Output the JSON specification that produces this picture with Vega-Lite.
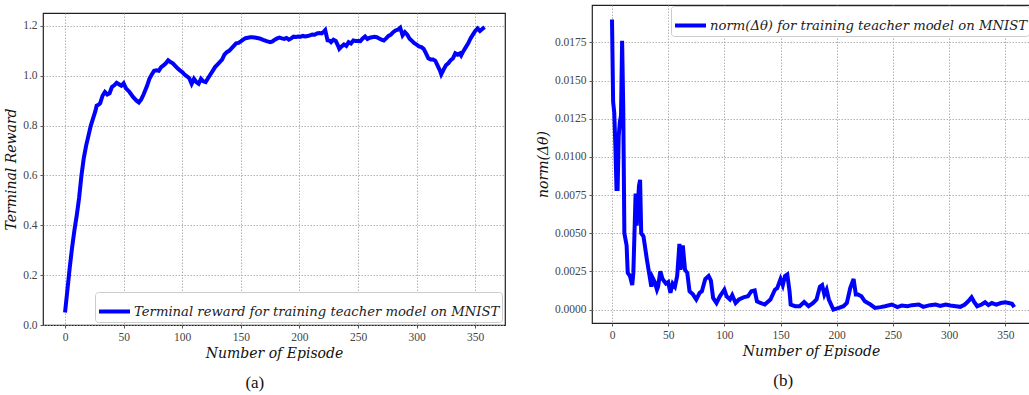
{
  "$schema": "https://vega.github.io/schema/vega-lite/v6.json",
  "background": "white",
  "padding": {"left": 4, "top": 4, "right": 0, "bottom": 0},
  "resolve": {"scale": {"color": "independent"}, "legend": {"color": "independent"}},
  "datasets": {
    "reward": [
      {"episode": 0, "reward": 0.05}, {"episode": 2, "reward": 0.14}, {"episode": 4, "reward": 0.23}, {"episode": 6, "reward": 0.31},
      {"episode": 8, "reward": 0.38}, {"episode": 10, "reward": 0.44}, {"episode": 12, "reward": 0.51}, {"episode": 14, "reward": 0.6},
      {"episode": 16, "reward": 0.67}, {"episode": 18, "reward": 0.72}, {"episode": 20, "reward": 0.76}, {"episode": 22, "reward": 0.8},
      {"episode": 24, "reward": 0.83}, {"episode": 26, "reward": 0.86}, {"episode": 27, "reward": 0.88}, {"episode": 29, "reward": 0.885},
      {"episode": 30, "reward": 0.89}, {"episode": 32, "reward": 0.92}, {"episode": 34, "reward": 0.935}, {"episode": 36, "reward": 0.925},
      {"episode": 38, "reward": 0.93}, {"episode": 40, "reward": 0.955}, {"episode": 42, "reward": 0.962}, {"episode": 44, "reward": 0.972},
      {"episode": 46, "reward": 0.966}, {"episode": 48, "reward": 0.96}, {"episode": 50, "reward": 0.97}, {"episode": 52, "reward": 0.95},
      {"episode": 55, "reward": 0.935}, {"episode": 58, "reward": 0.915}, {"episode": 61, "reward": 0.9}, {"episode": 63, "reward": 0.893},
      {"episode": 65, "reward": 0.905}, {"episode": 67, "reward": 0.925}, {"episode": 70, "reward": 0.96}, {"episode": 72, "reward": 0.988},
      {"episode": 74, "reward": 1.005}, {"episode": 76, "reward": 1.02}, {"episode": 78, "reward": 1.022}, {"episode": 80, "reward": 1.02},
      {"episode": 82, "reward": 1.035}, {"episode": 84, "reward": 1.042}, {"episode": 86, "reward": 1.05}, {"episode": 88, "reward": 1.062},
      {"episode": 90, "reward": 1.055}, {"episode": 92, "reward": 1.05}, {"episode": 94, "reward": 1.04}, {"episode": 96, "reward": 1.03},
      {"episode": 98, "reward": 1.022}, {"episode": 100, "reward": 1.015}, {"episode": 102, "reward": 1.005}, {"episode": 104, "reward": 0.998},
      {"episode": 106, "reward": 0.99}, {"episode": 108, "reward": 0.968}, {"episode": 110, "reward": 0.988}, {"episode": 112, "reward": 0.975},
      {"episode": 114, "reward": 0.968}, {"episode": 116, "reward": 0.988}, {"episode": 118, "reward": 0.978}, {"episode": 120, "reward": 0.975},
      {"episode": 122, "reward": 0.99}, {"episode": 124, "reward": 1.005}, {"episode": 126, "reward": 1.02}, {"episode": 128, "reward": 1.035},
      {"episode": 130, "reward": 1.045}, {"episode": 132, "reward": 1.055}, {"episode": 134, "reward": 1.065}, {"episode": 136, "reward": 1.085},
      {"episode": 138, "reward": 1.095}, {"episode": 140, "reward": 1.1}, {"episode": 142, "reward": 1.11}, {"episode": 144, "reward": 1.12},
      {"episode": 146, "reward": 1.13}, {"episode": 148, "reward": 1.132}, {"episode": 150, "reward": 1.138}, {"episode": 152, "reward": 1.145},
      {"episode": 154, "reward": 1.151}, {"episode": 156, "reward": 1.153}, {"episode": 158, "reward": 1.155}, {"episode": 160, "reward": 1.155},
      {"episode": 163, "reward": 1.153}, {"episode": 166, "reward": 1.15}, {"episode": 169, "reward": 1.144}, {"episode": 172, "reward": 1.139},
      {"episode": 175, "reward": 1.135}, {"episode": 177, "reward": 1.138}, {"episode": 179, "reward": 1.145}, {"episode": 181, "reward": 1.15},
      {"episode": 183, "reward": 1.153}, {"episode": 185, "reward": 1.15}, {"episode": 187, "reward": 1.148}, {"episode": 189, "reward": 1.152},
      {"episode": 191, "reward": 1.145}, {"episode": 193, "reward": 1.15}, {"episode": 195, "reward": 1.157}, {"episode": 197, "reward": 1.156},
      {"episode": 199, "reward": 1.158}, {"episode": 201, "reward": 1.157}, {"episode": 203, "reward": 1.16}, {"episode": 205, "reward": 1.158},
      {"episode": 207, "reward": 1.16}, {"episode": 209, "reward": 1.162}, {"episode": 211, "reward": 1.166}, {"episode": 213, "reward": 1.165},
      {"episode": 215, "reward": 1.17}, {"episode": 217, "reward": 1.172}, {"episode": 219, "reward": 1.17}, {"episode": 221, "reward": 1.178},
      {"episode": 222, "reward": 1.183}, {"episode": 224, "reward": 1.142}, {"episode": 226, "reward": 1.14}, {"episode": 227, "reward": 1.135},
      {"episode": 229, "reward": 1.145}, {"episode": 231, "reward": 1.14}, {"episode": 233, "reward": 1.12}, {"episode": 234, "reward": 1.108},
      {"episode": 236, "reward": 1.118}, {"episode": 238, "reward": 1.126}, {"episode": 240, "reward": 1.12}, {"episode": 242, "reward": 1.135},
      {"episode": 244, "reward": 1.13}, {"episode": 246, "reward": 1.142}, {"episode": 248, "reward": 1.14}, {"episode": 250, "reward": 1.14},
      {"episode": 252, "reward": 1.139}, {"episode": 254, "reward": 1.15}, {"episode": 256, "reward": 1.158}, {"episode": 258, "reward": 1.148},
      {"episode": 260, "reward": 1.153}, {"episode": 262, "reward": 1.155}, {"episode": 264, "reward": 1.157}, {"episode": 266, "reward": 1.155},
      {"episode": 268, "reward": 1.15}, {"episode": 270, "reward": 1.145}, {"episode": 272, "reward": 1.142}, {"episode": 274, "reward": 1.15},
      {"episode": 276, "reward": 1.16}, {"episode": 278, "reward": 1.165}, {"episode": 280, "reward": 1.175}, {"episode": 282, "reward": 1.182},
      {"episode": 284, "reward": 1.185}, {"episode": 286, "reward": 1.193}, {"episode": 288, "reward": 1.162}, {"episode": 290, "reward": 1.175},
      {"episode": 292, "reward": 1.165}, {"episode": 294, "reward": 1.149}, {"episode": 296, "reward": 1.14}, {"episode": 298, "reward": 1.131},
      {"episode": 300, "reward": 1.125}, {"episode": 302, "reward": 1.118}, {"episode": 304, "reward": 1.115}, {"episode": 306, "reward": 1.108},
      {"episode": 308, "reward": 1.09}, {"episode": 310, "reward": 1.07}, {"episode": 312, "reward": 1.065}, {"episode": 314, "reward": 1.065},
      {"episode": 316, "reward": 1.06}, {"episode": 318, "reward": 1.04}, {"episode": 320, "reward": 1.02}, {"episode": 321, "reward": 1.006},
      {"episode": 323, "reward": 1.025}, {"episode": 325, "reward": 1.042}, {"episode": 327, "reward": 1.05}, {"episode": 329, "reward": 1.062},
      {"episode": 331, "reward": 1.07}, {"episode": 333, "reward": 1.09}, {"episode": 335, "reward": 1.085}, {"episode": 337, "reward": 1.09},
      {"episode": 338, "reward": 1.082}, {"episode": 340, "reward": 1.1}, {"episode": 342, "reward": 1.115}, {"episode": 344, "reward": 1.13},
      {"episode": 346, "reward": 1.15}, {"episode": 348, "reward": 1.165}, {"episode": 350, "reward": 1.18}, {"episode": 352, "reward": 1.19},
      {"episode": 354, "reward": 1.18}, {"episode": 356, "reward": 1.188}, {"episode": 358, "reward": 1.195}
    ],
    "norm": [
      {"episode": 0, "norm": 0.019}, {"episode": 1, "norm": 0.0136}, {"episode": 2, "norm": 0.0129}, {"episode": 3, "norm": 0.0107},
      {"episode": 4, "norm": 0.0079}, {"episode": 5, "norm": 0.0079}, {"episode": 6, "norm": 0.0114}, {"episode": 7, "norm": 0.0123},
      {"episode": 8, "norm": 0.0127}, {"episode": 9, "norm": 0.0176}, {"episode": 10, "norm": 0.0133}, {"episode": 11, "norm": 0.005},
      {"episode": 13, "norm": 0.0042}, {"episode": 14, "norm": 0.0024}, {"episode": 16, "norm": 0.0022}, {"episode": 18, "norm": 0.0016},
      {"episode": 19, "norm": 0.0024}, {"episode": 21, "norm": 0.0076}, {"episode": 22, "norm": 0.0055}, {"episode": 24, "norm": 0.0081},
      {"episode": 25, "norm": 0.0085}, {"episode": 26, "norm": 0.005}, {"episode": 28, "norm": 0.0048}, {"episode": 31, "norm": 0.0033},
      {"episode": 33, "norm": 0.0024}, {"episode": 35, "norm": 0.0015}, {"episode": 36, "norm": 0.0021}, {"episode": 38, "norm": 0.0018},
      {"episode": 40, "norm": 0.0013}, {"episode": 41, "norm": 0.0015}, {"episode": 43, "norm": 0.0025}, {"episode": 45, "norm": 0.002},
      {"episode": 48, "norm": 0.0017}, {"episode": 50, "norm": 0.0018}, {"episode": 52, "norm": 0.0011}, {"episode": 54, "norm": 0.0017},
      {"episode": 56, "norm": 0.0015}, {"episode": 58, "norm": 0.0022}, {"episode": 60, "norm": 0.0043}, {"episode": 61, "norm": 0.0026},
      {"episode": 63, "norm": 0.0042}, {"episode": 65, "norm": 0.0026}, {"episode": 67, "norm": 0.0024}, {"episode": 69, "norm": 0.0012},
      {"episode": 72, "norm": 0.001}, {"episode": 75, "norm": 0.00066}, {"episode": 78, "norm": 0.0011}, {"episode": 80, "norm": 0.0012},
      {"episode": 83, "norm": 0.002}, {"episode": 86, "norm": 0.0022}, {"episode": 88, "norm": 0.0019}, {"episode": 90, "norm": 0.00076},
      {"episode": 93, "norm": 0.00043}, {"episode": 96, "norm": 0.00087}, {"episode": 100, "norm": 0.0013}, {"episode": 102, "norm": 0.00087},
      {"episode": 105, "norm": 0.00066}, {"episode": 107, "norm": 0.00094}, {"episode": 110, "norm": 0.00043}, {"episode": 113, "norm": 0.00066},
      {"episode": 117, "norm": 0.0008}, {"episode": 121, "norm": 0.00087}, {"episode": 124, "norm": 0.0012}, {"episode": 127, "norm": 0.00125},
      {"episode": 129, "norm": 0.00054}, {"episode": 132, "norm": 0.00043}, {"episode": 136, "norm": 0.00033}, {"episode": 141, "norm": 0.00066},
      {"episode": 145, "norm": 0.0013}, {"episode": 147, "norm": 0.0014}, {"episode": 150, "norm": 0.002}, {"episode": 152, "norm": 0.0016},
      {"episode": 154, "norm": 0.0022}, {"episode": 156, "norm": 0.0023}, {"episode": 158, "norm": 0.0012}, {"episode": 159, "norm": 0.00033},
      {"episode": 163, "norm": 0.00022}, {"episode": 167, "norm": 0.00022}, {"episode": 171, "norm": 0.0005}, {"episode": 175, "norm": 0.00022},
      {"episode": 179, "norm": 0.00043}, {"episode": 182, "norm": 0.00066}, {"episode": 185, "norm": 0.0015}, {"episode": 187, "norm": 0.0016},
      {"episode": 189, "norm": 0.00098}, {"episode": 191, "norm": 0.0013}, {"episode": 193, "norm": 0.00066}, {"episode": 197, "norm": 0.0},
      {"episode": 202, "norm": 0.00011}, {"episode": 206, "norm": 0.00022}, {"episode": 209, "norm": 0.00043}, {"episode": 212, "norm": 0.0014},
      {"episode": 215, "norm": 0.002}, {"episode": 217, "norm": 0.00098}, {"episode": 219, "norm": 0.00098}, {"episode": 222, "norm": 0.00087},
      {"episode": 225, "norm": 0.00054}, {"episode": 230, "norm": 0.00033}, {"episode": 234, "norm": 0.00011}, {"episode": 239, "norm": 0.00016},
      {"episode": 243, "norm": 0.00022}, {"episode": 249, "norm": 0.00033}, {"episode": 254, "norm": 0.00016}, {"episode": 258, "norm": 0.00027},
      {"episode": 263, "norm": 0.00022}, {"episode": 267, "norm": 0.00029}, {"episode": 273, "norm": 0.00033}, {"episode": 277, "norm": 0.00018},
      {"episode": 283, "norm": 0.00029}, {"episode": 288, "norm": 0.00033}, {"episode": 292, "norm": 0.00024}, {"episode": 297, "norm": 0.00033},
      {"episode": 301, "norm": 0.00027}, {"episode": 306, "norm": 0.00022}, {"episode": 310, "norm": 0.00018}, {"episode": 314, "norm": 0.00033},
      {"episode": 317, "norm": 0.00054}, {"episode": 320, "norm": 0.0008}, {"episode": 322, "norm": 0.00054}, {"episode": 325, "norm": 0.00022},
      {"episode": 329, "norm": 0.00033}, {"episode": 332, "norm": 0.00048}, {"episode": 335, "norm": 0.00029}, {"episode": 338, "norm": 0.00043},
      {"episode": 342, "norm": 0.00033}, {"episode": 346, "norm": 0.00043}, {"episode": 350, "norm": 0.00048}, {"episode": 353, "norm": 0.00043},
      {"episode": 356, "norm": 0.00038}, {"episode": 358, "norm": 0.00016}
    ],
    "spacer": [{"blank": ""}]
  },
  "config": {
    "view": {"stroke": "#222", "strokeWidth": 1.2},
    "axis": {
      "labelFont": "Liberation Serif", "labelFontSize": 11.5, "labelColor": "#444",
      "titleFont": "DejaVu Serif", "titleFontStyle": "italic", "titleFontWeight": "normal", "titleFontSize": 14, "titleColor": "#111",
      "grid": true, "gridColor": "#a0a0a0", "gridDash": [1.5, 1.5], "gridWidth": 0.8,
      "domain": false, "tickColor": "#555", "tickSize": 3, "labelPadding": 3, "titlePadding": 4
    },
    "legend": {
      "title": null, "symbolType": "stroke", "symbolStrokeWidth": 4, "symbolSize": 960,
      "labelFont": "DejaVu Serif", "labelFontStyle": "italic", "labelFontSize": 13.2, "labelColor": "#222", "labelLimit": 0, "labelOffset": 2,
      "strokeColor": "#ccc", "cornerRadius": 3, "fillColor": "white", "padding": 2, "offset": 3
    },
    "title": {"font": "Liberation Serif", "fontSize": 17, "fontWeight": "normal", "color": "#111"}
  },
  "spacing": 29,
  "hconcat": [
    {
      "spacing": 0,
      "resolve": {"scale": {"color": "independent"}, "legend": {"color": "independent"}},
      "vconcat": [
        {
          "width": 462,
          "height": 7,
          "view": {"stroke": null},
          "data": {"name": "spacer"},
          "mark": {"type": "text", "fontSize": 1},
          "encoding": {"text": {"field": "blank"}}
        },
        {
          "width": 462,
          "height": 312,
          "data": {"name": "reward"},
          "title": {"text": "(a)", "orient": "bottom", "offset": 14, "anchor": "middle", "frame": "bounds"},
          "mark": {"type": "line", "strokeWidth": 4},
          "encoding": {
            "x": {"field": "episode", "type": "quantitative",
              "scale": {"domain": [-18.8, 375.4], "nice": false, "zero": false},
              "axis": {"values": [0, 50, 100, 150, 200, 250, 300, 350], "title": "Number of Episode"}},
            "y": {"field": "reward", "type": "quantitative",
              "scale": {"domain": [0, 1.252], "nice": false},
              "axis": {"values": [0, 0.2, 0.4, 0.6, 0.8, 1.0, 1.2], "format": ".1f", "title": "Terminal Reward"}},
            "color": {"datum": "Terminal reward for training teacher model on MNIST",
              "scale": {"range": ["#0000ff"]}, "legend": {"orient": "bottom-right"}}
          }
        }
      ]
    },
    {
      "width": 438,
      "height": 318,
      "data": {"name": "norm"},
      "title": {"text": "(b)", "orient": "bottom", "offset": 14, "anchor": "middle", "frame": "bounds"},
      "mark": {"type": "line", "strokeWidth": 4},
      "encoding": {
        "x": {"field": "episode", "type": "quantitative",
          "scale": {"domain": [-17.8, 372], "nice": false, "zero": false},
          "axis": {"values": [0, 50, 100, 150, 200, 250, 300, 350], "title": "Number of Episode"}},
        "y": {"field": "norm", "type": "quantitative",
          "scale": {"domain": [-0.00088, 0.01995], "nice": false, "zero": false},
          "axis": {"values": [0, 0.0025, 0.005, 0.0075, 0.01, 0.0125, 0.015, 0.0175], "format": ".4f", "title": "norm(Δθ)"}},
        "color": {"datum": "norm(Δθ) for training teacher model on MNIST",
          "scale": {"range": ["#0000ff"]}, "legend": {"orient": "top-right", "offset": 1}}
      }
    }
  ]
}
